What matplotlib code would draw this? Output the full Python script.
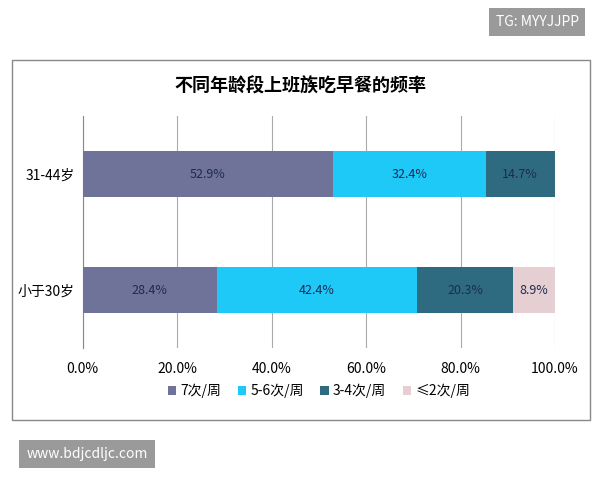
import matplotlib.pyplot as plt
from matplotlib.patches import Rectangle

plt.rcParams['font.family'] = ['Noto Sans CJK SC', 'DejaVu Sans']

groups = ['小于30岁', '31-44岁']
series = ['7次/周', '5-6次/周', '3-4次/周', '≤2次/周']
values = [
    [28.4, 52.9],
    [42.4, 32.4],
    [20.3, 14.7],
    [8.9, 0.0],
]
colors = ['#6f7399', '#1ec8f7', '#2f6b80', '#e6cfd3']

fig = plt.figure(figsize=(6, 4.8), dpi=100)
fig.patches.append(Rectangle((0.02, 0.125), 0.963, 0.75, transform=fig.transFigure,
                             fill=False, edgecolor='#888888', lw=1))
ax = fig.add_axes([0.138, 0.275, 0.787, 0.483])

left = [0.0, 0.0]
for name, vals, c in zip(series, values, colors):
    bars = ax.barh(range(len(groups)), vals, left=left, height=0.4, color=c, label=name, zorder=3)
    for b, v in zip(bars, vals):
        if v > 0:
            ax.text(b.get_x() + b.get_width() / 2, b.get_y() + b.get_height() / 2, f'{v}%',
                    ha='center', va='center', fontsize=9, color='#1f2a50', zorder=4)
    left = [l + v for l, v in zip(left, vals)]

ax.set_xlim(0, 100)
ax.set_ylim(-0.5, 1.5)
ax.set_yticks(range(len(groups)))
ax.set_yticklabels(groups, fontsize=10)
ax.set_xticks(range(0, 101, 20))
ax.set_xticklabels([f'{x:.1f}%' for x in range(0, 101, 20)], fontsize=10)
ax.xaxis.grid(True, color='#aaaaaa', lw=0.8, zorder=0)
for s in ['top', 'right', 'bottom']:
    ax.spines[s].set_visible(False)
ax.spines['left'].set_color('#888888')
ax.tick_params(axis='x', length=0, pad=10)
ax.tick_params(axis='y', length=0, pad=6)

fig.text(0.5, 0.82, '不同年龄段上班族吃早餐的频率', ha='center', va='center',
         fontsize=13, fontweight='bold')
ax.legend(loc='upper center', bbox_to_anchor=(0.5, -0.1), ncol=4, frameon=False,
          fontsize=10, handlelength=0.6, handleheight=0.6, columnspacing=1.2, handletextpad=0.3)

fig.text(0.895, 0.955, 'TG: MYYJJPP', ha='center', va='center', fontsize=10, color='white',
         bbox=dict(boxstyle='square,pad=0.5', fc='#9a9a9a', ec='none'))
fig.text(0.145, 0.055, 'www.bdjcdljc.com', ha='center', va='center', fontsize=10, color='white',
         bbox=dict(boxstyle='square,pad=0.5', fc='#9a9a9a', ec='none'))

fig.savefig('out.png', dpi=100, facecolor='white')
